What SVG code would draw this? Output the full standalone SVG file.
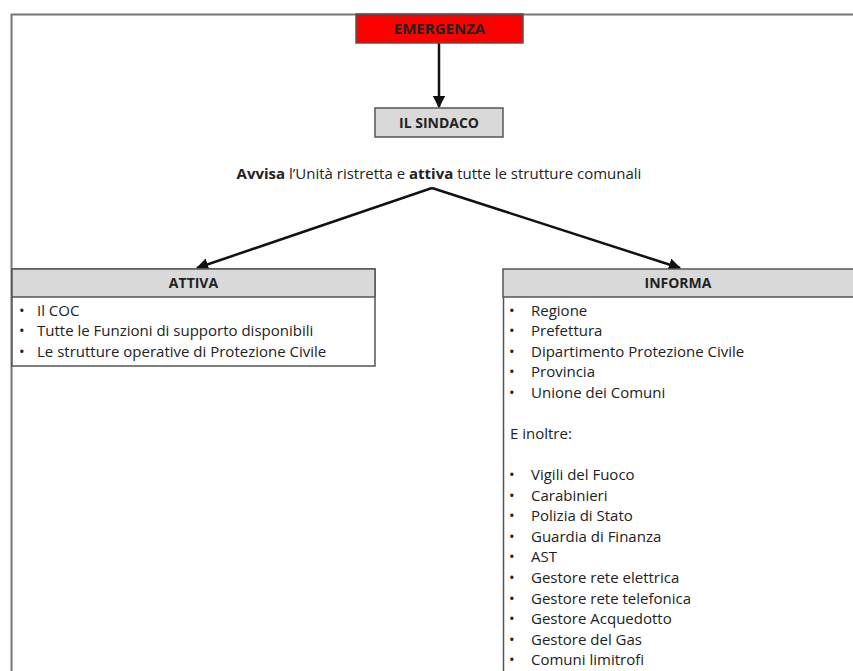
<svg xmlns="http://www.w3.org/2000/svg" width="853" height="671" viewBox="0 0 853 671">
<defs>
<marker id="ah" viewBox="0 0 10 10" refX="9" refY="5" markerWidth="5" markerHeight="5" orient="auto" markerUnits="strokeWidth">
<path d="M0,0 L10,5 L0,10 z" fill="#111"/>
</marker>
<style>
text{font-family:"Open Sans","Liberation Sans",sans-serif;fill:#222;font-size:15px}
.b{font-weight:bold}
.hd{font-weight:bold;text-anchor:middle;font-size:14px}
.box{stroke:#555;stroke-width:1.5}
.con{stroke:#111;stroke-width:2.5;fill:none;marker-end:url(#ah)}
</style>
</defs>
<rect width="853" height="671" fill="#fff"/>
<g id="frame"><path d="M11.5,671 V14.5 H853" fill="none" stroke="#777" stroke-width="2"/></g>
<g id="connectors">
<line class="con" x1="439" y1="43" x2="439" y2="107"/>
<line class="con" x1="432" y1="188" x2="197" y2="268"/>
<line class="con" x1="432" y1="188" x2="680" y2="268"/>
</g>
<g id="emergenza">
<rect class="box" x="356" y="14" width="167" height="29" fill="#ff0000" stroke="#444"/>
<text class="hd" x="439.5" y="34" style="font-size:15px">EMERGENZA</text>
</g>
<g id="sindaco">
<rect class="box" x="375" y="108" width="128" height="29" fill="#d9d9d9"/>
<text class="hd" x="439" y="128">IL SINDACO</text>
</g>
<g id="avvisa">
<text x="439" y="179" text-anchor="middle"><tspan class="b">Avvisa</tspan> l’Unità ristretta e <tspan class="b">attiva</tspan> tutte le strutture comunali</text>
</g>
<g id="attiva">
<rect class="box" x="12" y="269" width="363" height="97" fill="#fff"/>
<rect class="box" x="12" y="269" width="363" height="28" fill="#d9d9d9"/>
<text class="hd" x="193.5" y="288">ATTIVA</text>
<text x="19" y="316">•<tspan x="37">Il COC</tspan></text>
<text x="19" y="336">•<tspan x="37">Tutte le Funzioni di supporto disponibili</tspan></text>
<text x="19" y="357">•<tspan x="37">Le strutture operative di Protezione Civile</tspan></text>
</g>
<g id="informa">
<path d="M503.5,671 V297" fill="none" stroke="#555" stroke-width="1.5"/>
<rect class="box" x="503" y="269" width="352" height="28" fill="#d9d9d9"/>
<text class="hd" x="678" y="288">INFORMA</text>
<text x="509" y="316">•<tspan x="531">Regione</tspan></text>
<text x="509" y="336">•<tspan x="531">Prefettura</tspan></text>
<text x="509" y="357">•<tspan x="531">Dipartimento Protezione Civile</tspan></text>
<text x="509" y="377">•<tspan x="531">Provincia</tspan></text>
<text x="509" y="398">•<tspan x="531">Unione dei Comuni</tspan></text>
<text x="510" y="439">E inoltre:</text>
<text x="509" y="480">•<tspan x="531">Vigili del Fuoco</tspan></text>
<text x="509" y="501">•<tspan x="531">Carabinieri</tspan></text>
<text x="509" y="521">•<tspan x="531">Polizia di Stato</tspan></text>
<text x="509" y="542">•<tspan x="531">Guardia di Finanza</tspan></text>
<text x="509" y="562">•<tspan x="531">AST</tspan></text>
<text x="509" y="583">•<tspan x="531">Gestore rete elettrica</tspan></text>
<text x="509" y="604">•<tspan x="531">Gestore rete telefonica</tspan></text>
<text x="509" y="624">•<tspan x="531">Gestore Acquedotto</tspan></text>
<text x="509" y="645">•<tspan x="531">Gestore del Gas</tspan></text>
<text x="509" y="665">•<tspan x="531">Comuni limitrofi</tspan></text>
</g>
</svg>
